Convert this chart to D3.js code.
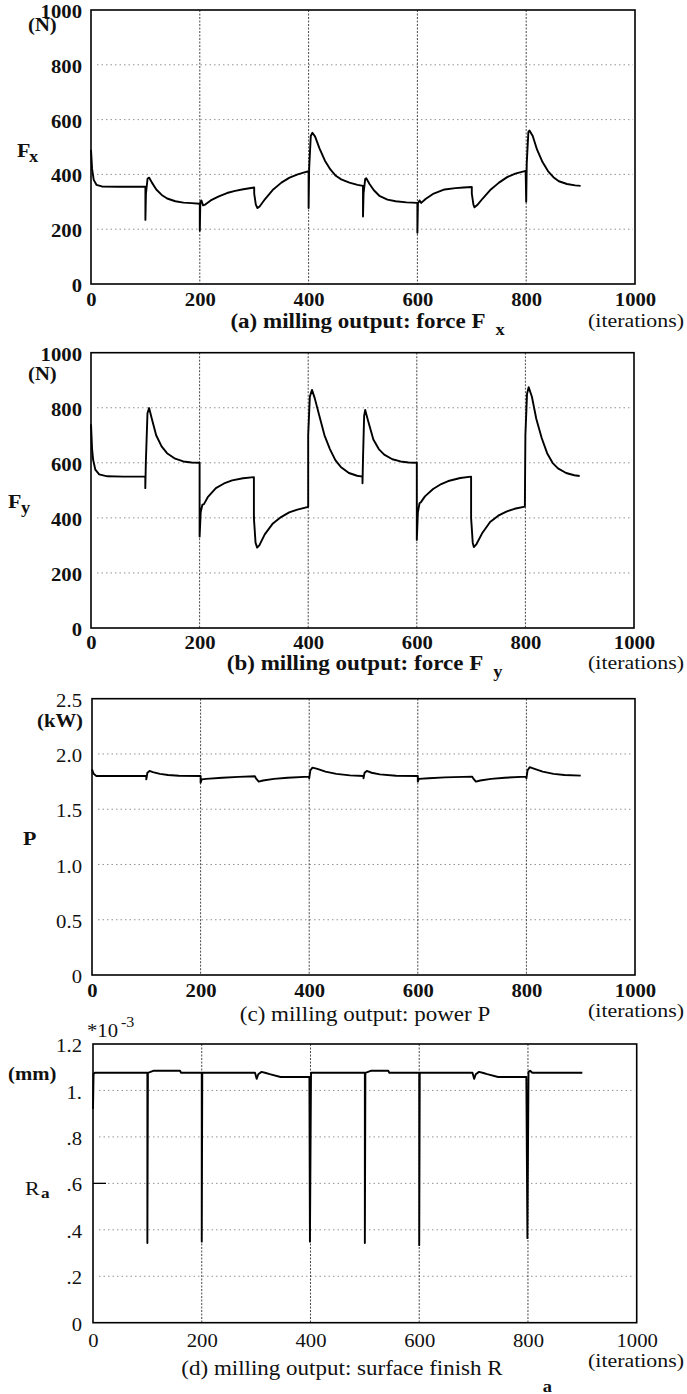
<!DOCTYPE html>
<html><head><meta charset="utf-8">
<script src="https://cdnjs.cloudflare.com/ajax/libs/d3/7.8.5/d3.min.js"></script>
<style>body{margin:0;background:#fff} svg{display:block}</style>
</head><body><svg id="c" width="687" height="1394"></svg>
<script>
// ---------- data ----------
const iterTicks = [0, 200, 400, 600, 800, 1000];
const gridIter = [200, 400, 600, 800];
const forceTicks = [0, 200, 400, 600, 800, 1000];
const forceTickLabels = ["0", "200", "400", "600", "800", "1000"];
const powerTicks = [0, 0.5, 1.0, 1.5, 2.0, 2.5];
const powerTickLabels = ["0", "0.5", "1.0", "1.5", "2.0", "2.5"];
const raTicks = [0, 0.2, 0.4, 0.6, 0.8, 1.0, 1.2];
const raTickLabels = ["0", ".2", ".4", ".6", ".8", "1.", "1.2"];
const raInnerTick = [0.6];

// (a) force Fx (N)
const fxIter = [0,2,5,10,20,50,100,100,101,104,107,112,120,130,140,155,170,185,200,200,201,203,206,210,220,235,250,265,280,300,300,303,306,310,320,335,350,365,380,400,400,401,404,407,412,420,430,440,450,460,475,490,500,500,501,504,506,512,520,530,545,560,580,600,600,601,604,607,615,630,650,670,685,700,700,703,705,710,720,735,750,765,780,799,800,801,804,806,812,820,830,840,850,860,875,890,900];
const fxVal  = [490,420,380,362,356,355,355,234,330,385,388,370,345,325,312,302,297,295,293,194,300,305,287,290,305,320,332,340,346,352,330,290,277,283,310,345,370,388,400,412,277,420,540,552,538,495,450,418,395,382,370,362,358,246,330,383,386,365,342,322,308,302,298,296,187,295,305,296,310,330,345,350,352,354,330,290,280,288,312,345,370,390,403,413,300,440,555,560,540,490,445,412,390,375,365,360,358];

// (b) force Fy (N)
const fyIter = [0,2,4,8,15,30,60,100,100,101,104,107,112,120,130,140,155,170,185,200,200,202,205,208,215,230,245,260,280,300,300,303,306,310,320,335,350,365,380,400,400,403,407,412,420,430,440,450,460,475,490,500,500,501,503,505,510,520,530,540,555,570,585,600,600,602,605,608,615,630,645,660,680,700,700,703,705,710,720,735,750,765,780,799,800,803,806,812,820,830,840,850,860,875,890,900];
const fyVal  = [740,650,610,575,558,551,550,550,508,600,780,799,760,700,660,635,615,605,601,600,332,420,447,450,475,508,525,536,544,548,400,310,292,300,340,380,403,420,430,440,700,840,865,835,775,700,650,610,585,563,553,550,526,620,770,792,755,685,650,630,613,605,601,600,320,420,453,458,478,505,523,535,545,550,400,310,294,305,343,385,408,423,433,441,700,850,875,840,760,690,635,600,580,563,555,552];

// (c) power P (kW)
const pIter = [0,3,8,100,100,102,106,112,125,140,160,200,200,202,210,240,270,300,302,307,315,335,360,400,400,402,406,415,430,450,475,500,500,502,506,515,530,560,600,600,602,620,650,700,702,707,715,735,760,800,800,802,806,815,830,850,870,900];
const pVal  = [1.86,1.82,1.80,1.80,1.77,1.83,1.846,1.835,1.82,1.81,1.803,1.80,1.74,1.77,1.775,1.785,1.793,1.798,1.78,1.75,1.76,1.775,1.785,1.795,1.78,1.85,1.876,1.865,1.84,1.82,1.806,1.80,1.78,1.83,1.846,1.83,1.815,1.803,1.80,1.75,1.775,1.78,1.788,1.795,1.78,1.75,1.76,1.775,1.785,1.795,1.78,1.85,1.88,1.865,1.84,1.82,1.81,1.804];

// (d) surface finish Ra (*10^-3 mm)
const raIter = [0,1,3,100,100,101,112,160,162,200,200,201,298,301,304,310,318,325,345,398,399,401,500,500,501,512,543,545,600,600,601,698,701,704,710,718,725,745,797,799,801,804,808,900];
const raVal  = [0.92,1.07,1.076,1.076,0.343,1.076,1.085,1.085,1.076,1.076,0.349,1.076,1.076,1.05,1.07,1.08,1.075,1.07,1.058,1.058,0.349,1.076,1.076,0.343,1.076,1.085,1.085,1.076,1.076,0.334,1.076,1.076,1.05,1.07,1.08,1.075,1.07,1.058,1.058,0.364,1.08,1.085,1.076,1.076];

// ---------- layout ----------
const SERIF = "'Liberation Serif','Times New Roman',serif";
const STRETCH = 1.15;
const panels = [
  { iter: fxIter, val: fxVal, ymax: 1000, ticks: forceTicks, labels: forceTickLabels,
    box: {l: 91, r: 635, t: 10, b: 284}, yw: "bold", xw: "bold", xy: 22,
    texts: [
      {s: "(N)", x: 28, y: 31, w: "bold", f: 18},
      {s: "F", x: 17, y: 157, w: "bold", f: 19},
      {s: "x", x: 29, y: 162, w: "bold", f: 16},
      {s: "(iterations)", x: 636, y: 327, w: "normal", f: 19, a: "middle"}
    ],
    cap: {s: "(a) milling output: force F", x: 358, y: 328, w: "bold", sub: "x", gap: 10, sy: 335} },
  { iter: fyIter, val: fyVal, ymax: 1000, ticks: forceTicks, labels: forceTickLabels,
    box: {l: 91, r: 634, t: 352.7, b: 628}, yw: "bold", xw: "bold", xy: 21,
    texts: [
      {s: "(N)", x: 28, y: 380, w: "bold", f: 18},
      {s: "F", x: 8, y: 508, w: "bold", f: 19},
      {s: "y", x: 21, y: 513, w: "bold", f: 16},
      {s: "(iterations)", x: 636, y: 669, w: "normal", f: 19, a: "middle"}
    ],
    cap: {s: "(b) milling output: force F", x: 355, y: 670, w: "bold", sub: "y", gap: 10, sy: 677} },
  { iter: pIter, val: pVal, ymax: 2.5, ticks: powerTicks, labels: powerTickLabels,
    box: {l: 92, r: 635, t: 698.7, b: 975}, yw: "normal", xw: "bold", xy: 22,
    texts: [
      {s: "(kW)", x: 37, y: 727, w: "bold", f: 18},
      {s: "P", x: 23, y: 845, w: "bold", f: 19},
      {s: "(iterations)", x: 636, y: 1017, w: "normal", f: 19, a: "middle"}
    ],
    cap: {s: "(c) milling output: power P", x: 365, y: 1021, w: "normal"} },
  { iter: raIter, val: raVal, ymax: 1.2, ticks: raTicks, labels: raTickLabels,
    box: {l: 93, r: 636.7, t: 1044, b: 1322.7}, yw: "normal", xw: "normal", xy: 24,
    inner: raInnerTick,
    texts: [
      {s: "*10", x: 87, y: 1037, w: "normal", f: 18},
      {s: "-3", x: 121, y: 1027, w: "normal", f: 14},
      {s: "(mm)", x: 8, y: 1080, w: "bold", f: 18},
      {s: "R", x: 25, y: 1195, w: "normal", f: 19},
      {s: "a", x: 41, y: 1198, w: "bold", f: 15},
      {s: "(iterations)", x: 636, y: 1367, w: "normal", f: 19, a: "middle"}
    ],
    cap: {s: "(d) milling output: surface finish R", x: 342, y: 1375, w: "normal", sub: "a", gap: 40, sy: 1392} }
];

const svg = d3.select("#c");

function stretch(node) {
  const L = node.getComputedTextLength();
  if (L > 0) {
    node.setAttribute("textLength", (L * STRETCH).toFixed(1));
    node.setAttribute("lengthAdjust", "spacingAndGlyphs");
  }
  return L * STRETCH;
}

function addText(g, t) {
  const el = g.append("text")
    .attr("x", t.x).attr("y", t.y)
    .attr("text-anchor", t.a || "start")
    .attr("font-family", SERIF)
    .attr("font-size", t.f || 19)
    .attr("font-weight", t.w || "normal")
    .attr("fill", "#111")
    .text(t.s);
  return stretch(el.node());
}

panels.forEach(p => {
  const g = svg.append("g");
  const {l, r, t, b} = p.box;
  const x = d3.scaleLinear().domain([0, 1000]).range([l, r]);
  const y = d3.scaleLinear().domain([0, p.ymax]).range([b, t]);

  // horizontal dotted grid
  g.append("g").selectAll("line")
    .data(p.ticks.slice(1, -1))
    .join("line")
    .attr("x1", l + 6).attr("x2", r - 2)
    .attr("y1", d => y(d)).attr("y2", d => y(d))
    .attr("stroke", "#777").attr("stroke-width", 0.8)
    .attr("stroke-dasharray", "1.5,3");

  // vertical dotted grid
  g.append("g").selectAll("line")
    .data(gridIter)
    .join("line")
    .attr("x1", d => x(d)).attr("x2", d => x(d))
    .attr("y1", t).attr("y2", b)
    .attr("stroke", "#333").attr("stroke-width", 0.9)
    .attr("stroke-dasharray", "2,1.5");

  // y axis labels
  const ya = g.append("g").attr("transform", `translate(${l},0)`)
    .call(d3.axisLeft(y).tickValues(p.ticks)
      .tickFormat((d, i) => p.labels[i]).tickSize(0).tickPadding(l - 82));
  ya.select(".domain").remove();
  ya.selectAll("text")
    .attr("font-family", SERIF).attr("font-size", 18)
    .attr("font-weight", p.yw).attr("fill", "#111")
    .attr("dy", "0.42em")
    .each(function () { stretch(this); });

  // short inner tick(s)
  if (p.inner) {
    g.append("g").selectAll("line").data(p.inner).join("line")
      .attr("x1", l).attr("x2", l + 13)
      .attr("y1", d => y(d)).attr("y2", d => y(d))
      .attr("stroke", "#000").attr("stroke-width", 1.3);
  }

  // x axis labels
  const xa = g.append("g").attr("transform", `translate(0,${b})`)
    .call(d3.axisBottom(x).tickValues(iterTicks).tickFormat(d3.format("d")).tickSize(0));
  xa.select(".domain").remove();
  xa.selectAll("text")
    .attr("font-family", SERIF).attr("font-size", 18)
    .attr("font-weight", p.xw).attr("fill", "#111")
    .attr("y", p.xy).attr("dy", 0)
    .each(function () { stretch(this); });

  // frame
  g.append("rect").attr("x", l).attr("y", t)
    .attr("width", r - l).attr("height", b - t)
    .attr("fill", "none").attr("stroke", "#000").attr("stroke-width", 1.6);

  // curve
  const line = d3.line().x(d => x(d[0])).y(d => y(d[1]));
  g.append("path")
    .datum(d3.zip(p.iter, p.val))
    .attr("d", line)
    .attr("fill", "none").attr("stroke", "#000")
    .attr("stroke-width", 1.9).attr("stroke-linejoin", "round");

  // texts
  p.texts.forEach(tx => addText(g, tx));
  const cw = addText(g, {s: p.cap.s, x: p.cap.x, y: p.cap.y, w: p.cap.w, f: 20, a: "middle"});
  if (p.cap.sub) {
    addText(g, {s: p.cap.sub, x: p.cap.x + cw / 2 + p.cap.gap, y: p.cap.sy, w: "bold", f: 16});
  }
});
</script>
</body></html>
